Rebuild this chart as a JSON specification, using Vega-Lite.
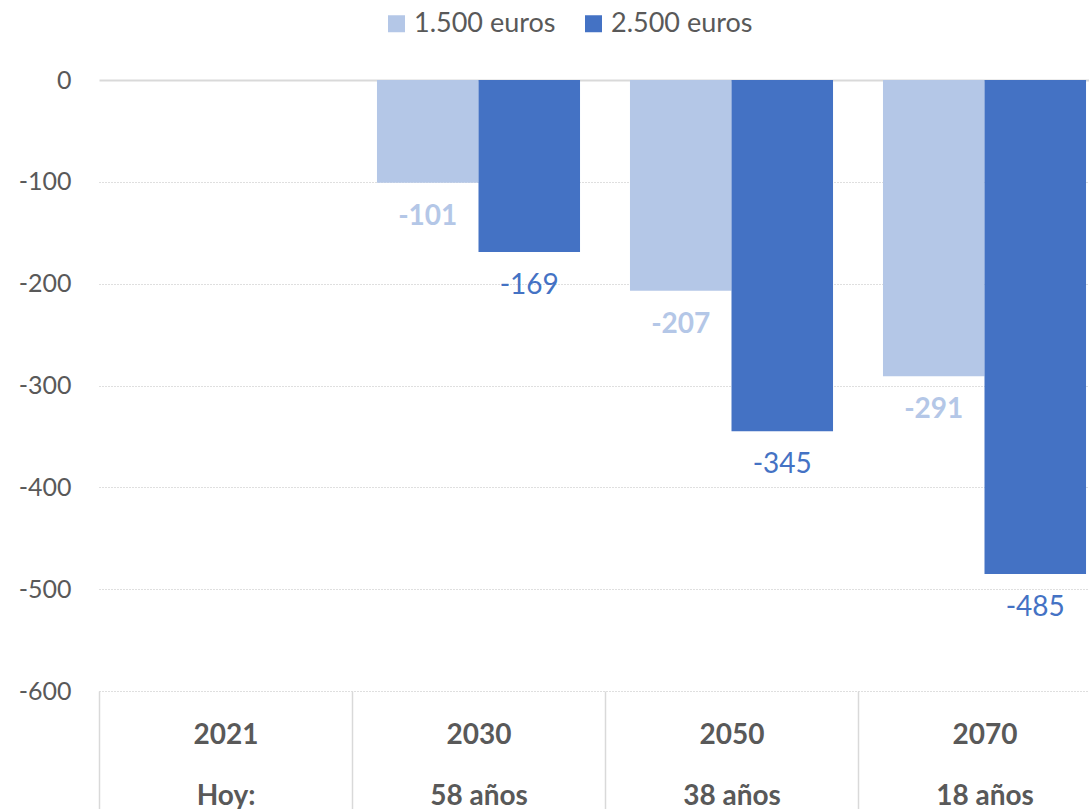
{
  "$schema": "https://vega.github.io/schema/vega-lite/v6.json",
  "autosize": {"type": "none"},
  "width": 990,
  "height": 611,
  "padding": {"left": 99, "top": 80, "right": 0, "bottom": 118},
  "background": "white",
  "config": {
    "font": "Lato",
    "view": {"stroke": null}
  },
  "data": {
    "values": [
      {"year": "2030", "serie": "1.500 euros", "value": -101},
      {"year": "2030", "serie": "2.500 euros", "value": -169},
      {"year": "2050", "serie": "1.500 euros", "value": -207},
      {"year": "2050", "serie": "2.500 euros", "value": -345},
      {"year": "2070", "serie": "1.500 euros", "value": -291},
      {"year": "2070", "serie": "2.500 euros", "value": -485}
    ]
  },
  "encoding": {
    "x": {
      "field": "year",
      "type": "nominal",
      "scale": {
        "domain": ["2021", "2030", "2050", "2070"],
        "range": [0, 1012],
        "paddingInner": 0,
        "paddingOuter": 0
      },
      "axis": {
        "title": null,
        "domain": false,
        "grid": false,
        "labelAngle": 0,
        "tickBand": "extent",
        "tickSize": 118,
        "tickColor": "#d9d9d9",
        "tickWidth": 1.5,
        "labelPadding": -88,
        "labelBaseline": "top",
        "labelLineHeight": 61,
        "labelFontSize": 28,
        "labelFontWeight": "bold",
        "labelColor": "#595959",
        "labelExpr": "indexof(['2021', '2030', '2050', '2070'], datum.label) < 0 ? '' : [datum.label, datum.label == '2021' ? 'Hoy:' : datum.label == '2030' ? '58 años' : datum.label == '2050' ? '38 años' : '18 años']"
      }
    },
    "xOffset": {
      "field": "serie",
      "type": "nominal",
      "scale": {"domain": ["1.500 euros", "2.500 euros"], "paddingInner": 0, "paddingOuter": 0.246}
    },
    "y": {
      "field": "value",
      "type": "quantitative",
      "scale": {"domain": [-600, 0], "nice": false, "zero": false},
      "axis": {
        "title": null,
        "values": [0, -100, -200, -300, -400, -500, -600],
        "labelExpr": "toString(datum.value)",
        "domain": false,
        "ticks": false,
        "labelFontSize": 25,
        "labelColor": "#595959",
        "labelPadding": 28,
        "gridColor": {"condition": {"test": "datum.value === 0", "value": "#d9d9d9"}, "value": "#bfbfbf"},
        "gridDash": {"condition": {"test": "datum.value === 0", "value": []}, "value": [1, 2]},
        "gridWidth": {"condition": {"test": "datum.value === 0", "value": 2}, "value": 1}
      }
    }
  },
  "layer": [
    {
      "mark": {"type": "bar"},
      "encoding": {
        "color": {
          "field": "serie",
          "type": "nominal",
          "scale": {"domain": ["1.500 euros", "2.500 euros"], "range": ["#b4c7e7", "#4472c4"]},
          "legend": {
            "orient": "none",
            "legendX": 284,
            "legendY": -70,
            "direction": "horizontal",
            "title": null,
            "padding": 0,
            "symbolType": "square",
            "symbolSize": 289,
            "symbolStrokeWidth": 0,
            "labelFontSize": 27,
            "labelColor": "#595959",
            "labelOffset": 4,
            "columnPadding": 24
          }
        }
      }
    },
    {
      "transform": [{"filter": "datum.serie == '1.500 euros'"}],
      "mark": {"type": "text", "baseline": "top", "dy": 20, "fontSize": 28, "fontWeight": "bold", "color": "#b4c7e7"},
      "encoding": {"text": {"field": "value", "type": "nominal"}}
    },
    {
      "transform": [{"filter": "datum.serie == '2.500 euros'"}],
      "mark": {"type": "text", "baseline": "top", "dy": 20, "fontSize": 28, "color": "#4472c4"},
      "encoding": {"text": {"field": "value", "type": "nominal"}}
    }
  ]
}
